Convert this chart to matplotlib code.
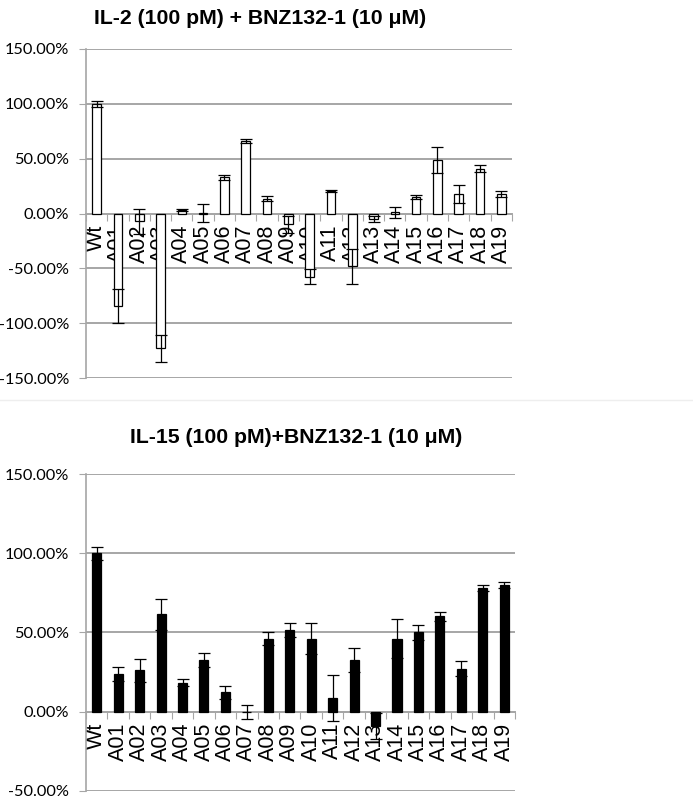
import numpy as np
import matplotlib
matplotlib.use("Agg")
import matplotlib.pyplot as plt
from matplotlib.ticker import FuncFormatter, FixedLocator
from matplotlib.lines import Line2D

# Data (percent of Wt response)
categories = ["Wt", "A01", "A02", "A03", "A04", "A05", "A06", "A07", "A08", "A09",
              "A10", "A11", "A12", "A13", "A14", "A15", "A16", "A17", "A18", "A19"]

il2_values = [100, -84.5, -7, -123, 3, 0.5, 33, 66, 13.5, -10,
              -57.5, 20.5, -48, -5, 1, 15, 49, 18, 41, 18]
il2_errors = [3, 15.5, 11.5, 12, 1, 8, 2.5, 1.5, 2.5, 8,
              7, 0.5, 16, 3, 5, 2, 12, 8, 3.5, 2.5]

il15_values = [100, 23.7, 26.2, 61.4, 18.4, 32.7, 12.3, -0.3, 46.2, 51.5,
               46.2, 8.7, 32.5, -9, 46.2, 50, 60.1, 27.2, 78.1, 79.7]
il15_errors = [4, 4.6, 7.3, 10, 2.3, 4.6, 4, 4.3, 4, 4.5,
               9.5, 14.7, 7.6, 8, 12, 4.7, 3, 4.8, 1.7, 1.9]

title_font = ["Liberation Sans", "DejaVu Sans"]
tick_font = ["Lato", "DejaVu Sans"]
cat_font = ["Liberation Sans", "DejaVu Sans"]
grid_col = "#a6a6a6"


def style_axis(ax, ymin, ymax, step):
    n = len(categories)
    ax.set_xlim(-0.5, n - 0.5)
    ax.set_ylim(ymin, ymax)
    ax.set_yticks(np.arange(ymin, ymax + 1, step))
    ax.yaxis.set_major_formatter(FuncFormatter(lambda v, p: f"{v:.2f}%"))
    ax.yaxis.grid(True, color=grid_col, linewidth=1.4)
    ax.set_axisbelow(True)
    for s in ["top", "right"]:
        ax.spines[s].set_visible(False)
    ax.spines["left"].set_color(grid_col)
    ax.spines["left"].set_linewidth(1.2)
    ax.spines["bottom"].set_position(("data", 0))
    ax.spines["bottom"].set_color(grid_col)
    ax.spines["bottom"].set_linewidth(1.4)
    ax.spines["bottom"].set_zorder(1)
    # boundary ticks (major), category labels (minor)
    ax.xaxis.set_major_locator(FixedLocator(np.arange(-0.5, n, 1.0)))
    ax.xaxis.set_major_formatter(FuncFormatter(lambda v, p: ""))
    ax.tick_params(axis="x", which="major", length=5, color=grid_col, direction="out")
    ax.set_xticks(np.arange(n), minor=True)
    ax.set_xticklabels(categories, minor=True, rotation=90,
                       fontsize=15.5, family=cat_font)
    ax.tick_params(axis="x", which="minor", length=0, pad=8)
    ax.tick_params(axis="y", length=5, color=grid_col, pad=7)
    for lab in ax.get_yticklabels():
        lab.set_fontsize(11.8)
        lab.set_family(tick_font)


fig = plt.figure(figsize=(6.93, 7.98), dpi=100)

x = np.arange(len(categories))

# Top chart: IL-2
ax1 = fig.add_axes([0.1241, 0.5263, 0.6147, 0.4123])
ax1.bar(x, il2_values, width=0.4, color="white", edgecolor="black", linewidth=0.9,
        yerr=il2_errors, capsize=4, error_kw=dict(elinewidth=0.9, capthick=0.9, ecolor="black"),
        zorder=2)
style_axis(ax1, -150, 150, 50)
fig.text(260 / 693, 1 - 18 / 798, "IL-2 (100 pM) + BNZ132-1 (10 \u03bcM)",
         ha="center", va="center", fontsize=15.3, fontweight="bold", family=title_font)

# Separator between the two panels
fig.add_artist(Line2D([0, 1], [1 - 400 / 798, 1 - 400 / 798], color="#eeeeee", linewidth=1))

# Bottom chart: IL-15
ax2 = fig.add_axes([0.1241, 0.0088, 0.619, 0.3972])
ax2.bar(x, il15_values, width=0.42, color="black", edgecolor="black", linewidth=0.9,
        yerr=il15_errors, capsize=4, error_kw=dict(elinewidth=0.9, capthick=0.9, ecolor="black"),
        zorder=2)
style_axis(ax2, -50, 150, 50)
fig.text(296 / 693, 1 - 437 / 798, "IL-15 (100 pM)+BNZ132-1 (10 \u03bcM)",
         ha="center", va="center", fontsize=15.3, fontweight="bold", family=title_font)

fig.savefig("out.png", dpi=100)
